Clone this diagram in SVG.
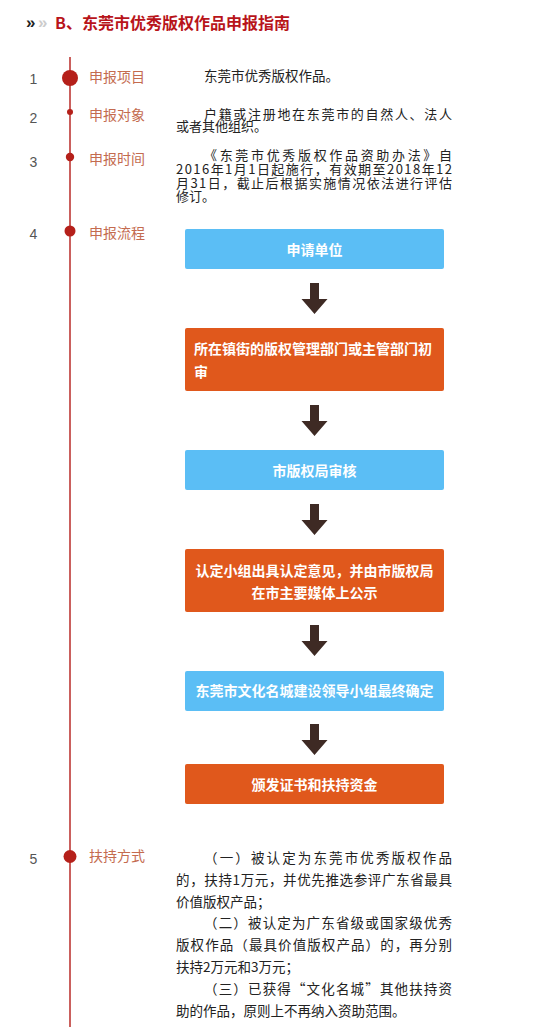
<svg xmlns="http://www.w3.org/2000/svg" width="550" height="1032" viewBox="0 0 550 1032">
<style>
  .num{font-family:"Liberation Sans","Noto Sans CJK SC",sans-serif;font-size:14px;fill:#555;text-anchor:middle}
  .lbl{font-family:"Noto Sans CJK SC",sans-serif;font-size:14px;fill:#c46b4f}
  .body{font-family:"Noto Sans CJK SC",sans-serif;font-size:13.5px;fill:#222}
  .tight{font-size:13px}
  .bt{font-family:"Noto Sans CJK SC",sans-serif;font-size:14px;font-weight:bold;fill:#fff}
  .c{text-anchor:middle}
  .blue{fill:#5bbef5}
  .orange{fill:#e0581c}
  .dot{fill:#b5201a}
  .arrow{fill:#3e2a24}
</style>
<defs>
  <polygon id="arr" points="-4.5,0 4.5,0 4.5,16 13,16 0,31 -13,16 -4.5,16"/>
</defs>
<rect width="550" height="1032" fill="#fff"/>

<g id="title">
  <text x="26" y="28" font-family="Liberation Sans,sans-serif" font-size="17" font-weight="bold" fill="#222">»</text>
  <text x="38" y="28" font-family="Liberation Sans,sans-serif" font-size="17" font-weight="bold" fill="#ccc">»</text>
  <text x="55" y="28.5" font-family="Noto Sans CJK SC,sans-serif" font-size="16" font-weight="bold" fill="#b8141a">B、东莞市优秀版权作品申报指南</text>
</g>

<g id="timeline">
  <line x1="70" y1="57" x2="70" y2="1027" stroke="#b92b27" stroke-width="1.5"/>
</g>

<g id="item1">
  <text class="num" x="33.5" y="84">1</text>
  <circle class="dot" cx="70" cy="78" r="8"/>
  <text class="lbl" x="89" y="82">申报项目</text>
  <text class="body" x="204" y="81">东莞市优秀版权作品。</text>
</g>

<g id="item2">
  <text class="num" x="33.5" y="122.5">2</text>
  <circle class="dot" cx="70" cy="112" r="3"/>
  <text class="lbl" x="89" y="120.3">申报对象</text>
  <text class="body tight" x="204" y="118.5" textLength="248" lengthAdjust="spacing">户籍或注册地在东莞市的自然人、法人</text>
  <text class="body tight" x="176" y="131">或者其他组织。</text>
</g>

<g id="item3">
  <text class="num" x="33.5" y="166.5">3</text>
  <circle class="dot" cx="70" cy="157" r="4.2"/>
  <text class="lbl" x="89" y="164.3">申报时间</text>
  <text class="body tight" x="204" y="160.3" textLength="248" lengthAdjust="spacing">《东莞市优秀版权作品资助办法》自</text>
  <text class="body tight" x="176" y="174" textLength="276" lengthAdjust="spacing">2016年1月1日起施行，有效期至2018年12</text>
  <text class="body tight" x="176" y="187.7" textLength="276" lengthAdjust="spacing">月31日，截止后根据实施情况依法进行评估</text>
  <text class="body tight" x="176" y="201.4">修订。</text>
</g>

<g id="item4">
  <text class="num" x="33.5" y="239">4</text>
  <circle class="dot" cx="70" cy="231" r="5.5"/>
  <text class="lbl" x="89" y="237.6">申报流程</text>
</g>

<g id="flow1">
  <rect class="blue" x="185" y="229" width="259" height="40" rx="2"/>
  <text class="bt c" x="314.5" y="254.5">申请单位</text>
</g>
<g id="flow2">
  <rect class="orange" x="185" y="328" width="259" height="63" rx="2"/>
  <text class="bt" x="194" y="353.5">所在镇街的版权管理部门或主管部门初</text>
  <text class="bt" x="194" y="377">审</text>
</g>
<g id="flow3">
  <rect class="blue" x="185" y="450" width="259" height="40" rx="2"/>
  <text class="bt c" x="314.5" y="476">市版权局审核</text>
</g>
<g id="flow4">
  <rect class="orange" x="185" y="549" width="259" height="63" rx="2"/>
  <text class="bt c" x="314.5" y="576">认定小组出具认定意见，并由市版权局</text>
  <text class="bt c" x="314.5" y="598">在市主要媒体上公示</text>
</g>
<g id="flow5">
  <rect class="blue" x="185" y="671" width="259" height="40" rx="2"/>
  <text class="bt c" x="314.5" y="696">东莞市文化名城建设领导小组最终确定</text>
</g>
<g id="flow6">
  <rect class="orange" x="185" y="764" width="259" height="40" rx="2"/>
  <text class="bt c" x="314.5" y="789.5">颁发证书和扶持资金</text>
</g>

<g id="connectors" class="arrow">
  <use href="#arr" x="314.5" y="283"/>
  <use href="#arr" x="314.5" y="405"/>
  <use href="#arr" x="314.5" y="504"/>
  <use href="#arr" x="314.5" y="625"/>
  <use href="#arr" x="314.5" y="724"/>
</g>

<g id="item5">
  <text class="num" x="33.5" y="863.5">5</text>
  <circle class="dot" cx="70" cy="856.5" r="6.5"/>
  <text class="lbl" x="89" y="861">扶持方式</text>
  <text class="body" x="204" y="863" textLength="248" lengthAdjust="spacing">（一）被认定为东莞市优秀版权作品</text>
  <text class="body" x="176" y="884.8" textLength="276" lengthAdjust="spacing">的，扶持1万元，并优先推选参评广东省最具</text>
  <text class="body" x="176" y="906.6">价值版权产品；</text>
  <text class="body" x="204" y="928.4" textLength="248" lengthAdjust="spacing">（二）被认定为广东省级或国家级优秀</text>
  <text class="body" x="176" y="950.2" textLength="276" lengthAdjust="spacing">版权作品（最具价值版权产品）的，再分别</text>
  <text class="body" x="176" y="972">扶持2万元和3万元；</text>
  <text class="body" x="204" y="993.8" textLength="248" lengthAdjust="spacing">（三）已获得“文化名城”其他扶持资</text>
  <text class="body" x="176" y="1015.6">助的作品，原则上不再纳入资助范围。</text>
</g>
</svg>
